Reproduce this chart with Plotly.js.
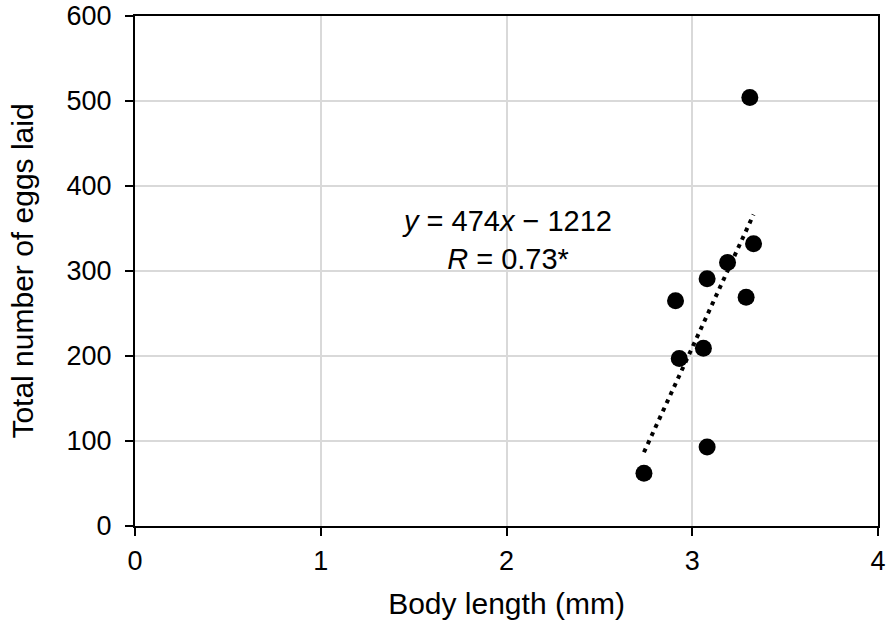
<!DOCTYPE html>
<html>
<head>
<meta charset="utf-8">
<script src="https://cdn.plot.ly/plotly-3.0.1.min.js"></script>
<style>html,body{margin:0;padding:0;background:#fff;}#chart{width:886px;height:624px;}</style>
</head>
<body>
<div id="chart"></div>
<script>
// Data
var bodyLength = [2.74, 2.91, 2.93, 3.06, 3.08, 3.08, 3.19, 3.29, 3.31, 3.33];
var eggsLaid   = [62, 265, 197, 209, 291, 93, 310, 269, 504, 332];
// Trend line coefficients (from the printed equation)
var trendSlope = [474];
var trendIntercept = [-1212];
var xTickVals = [0, 1, 2, 3, 4];
var yTickVals = [0, 100, 200, 300, 400, 500, 600];

var xMin = Math.min.apply(null, bodyLength);
var xMax = Math.max.apply(null, bodyLength);
var trendX = [xMin, xMax];
var trendY = trendX.map(function (x) { return trendSlope[0] * x + trendIntercept[0]; });

var font = 'Liberation Sans, Arial, sans-serif';

var traces = [
  {
    x: trendX, y: trendY, mode: 'lines', type: 'scatter',
    line: {color: '#000', width: 4, dash: '4px,5px'},
    hoverinfo: 'skip', showlegend: false
  },
  {
    x: bodyLength, y: eggsLaid, mode: 'markers', type: 'scatter',
    marker: {color: '#000', size: 17},
    showlegend: false
  }
];

var axisCommon = {
  showline: true, linecolor: '#000', linewidth: 2, mirror: true,
  showgrid: true, gridcolor: '#d9d9d9', gridwidth: 2,
  zeroline: false, ticks: 'outside', ticklen: 8, tickwidth: 2, tickcolor: '#000',
  tickfont: {family: font, size: 27, color: '#000'}
};

var layout = {
  width: 886, height: 624,
  margin: {l: 135, r: 8, t: 16, b: 98},
  paper_bgcolor: '#fff', plot_bgcolor: '#fff',
  showlegend: false,
  xaxis: Object.assign({}, axisCommon, {
    range: [0, 4], tickmode: 'array', tickvals: xTickVals,
    ticklabelstandoff: 2,
    title: {text: 'Body length (mm)', font: {family: font, size: 30, color: '#000'}, standoff: 18}
  }),
  yaxis: Object.assign({}, axisCommon, {
    range: [0, 600], tickmode: 'array', tickvals: yTickVals,
    ticklabelstandoff: 8,
    title: {text: 'Total number of eggs laid', font: {family: font, size: 30, color: '#000'}, standoff: 24}
  }),
  annotations: [{
    x: 2.0, y: 336, xref: 'x', yref: 'y', showarrow: false,
    text: '<i>y</i> = 474<i>x</i> − 1212<br><i>R</i> = 0.73*',
    font: {family: font, size: 29, color: '#000'}, align: 'center'
  }]
};

Plotly.newPlot('chart', traces, layout, {displayModeBar: false, staticPlot: true});
</script>
</body>
</html>
